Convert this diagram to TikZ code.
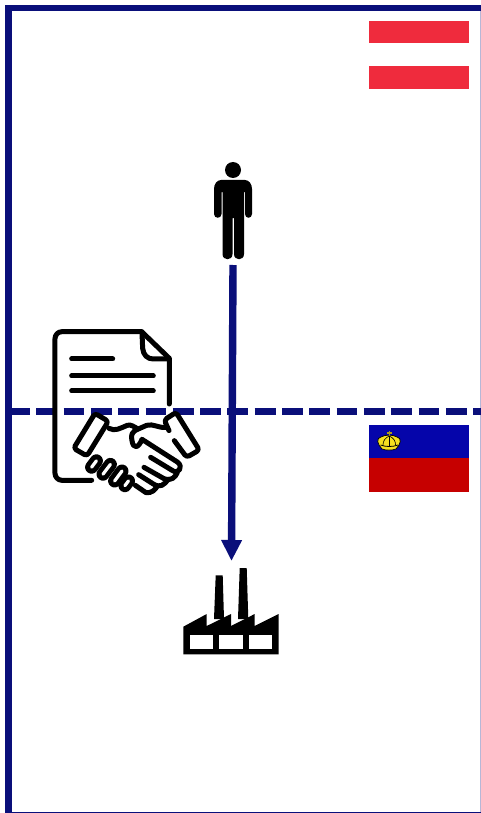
\documentclass[tikz,border=0pt]{standalone}
\usetikzlibrary{arrows.meta}
\definecolor{frame}{HTML}{0A0F7A}
\definecolor{atred}{HTML}{EF2B3D}
\definecolor{liblue}{HTML}{0505AA}
\definecolor{lired}{HTML}{C60000}
\definecolor{crown}{HTML}{F5E020}
\tikzset{
  border/.style={frame,line width=7.4pt,line cap=butt},
  icon/.style={black,line width=5pt,line cap=round,line join=round},
  finger/.style={black,line width=5pt,line cap=round,line join=round},
}
\begin{document}
\begin{tikzpicture}[x=1pt,y=-1pt,line join=round]
  \useasboundingbox (0,0) rectangle (481,813);
  \fill[white] (0,0) rectangle (481,813);

  % Outer frame: heavy left and top, hairline right and bottom.
  \draw[frame!30,line width=1pt] (480.5,8)--(480.5,812);
  \draw[frame,line width=1.2pt] (8,812.4)--(481,812.4);
  \fill[frame] (5,5) rectangle (481,11.5);
  \fill[frame] (5,5) rectangle (12,813);

  % Border line between the two countries.
  \draw[border,dash pattern=on 20.8pt off 6.5pt] (9,411.5)--(481,411.5);

  % Austrian flag.
  \fill[atred] (369,21) rectangle (469,43.5);
  \fill[atred] (369,66) rectangle (469,89);

  % Liechtenstein flag with crown.
  \fill[liblue] (369,425) rectangle (469,458);
  \fill[lired] (369,458) rectangle (469,492);
  \draw[black,line width=0.7pt,fill=crown]
    (382,449) .. controls (377,444) and (376,438) .. (381,437)
    .. controls (385,434.5) and (393,434.5) .. (397,437)
    .. controls (402,438) and (401,444) .. (396,449)
    .. controls (392,450.5) and (386,450.5) .. (382,449) -- cycle;
  \draw[crown!70!black,line width=1.6pt] (389.3,431)--(389.3,436);
  \draw[crown!70!black,line width=1.2pt] (387,433)--(391.6,433);
  \draw[black,line width=0.6pt] (389.3,436) .. controls (385,438) and (383,441) .. (383,445);
  \draw[black,line width=0.6pt] (389.3,436) .. controls (393.6,438) and (395.6,441) .. (395.6,445);
  \draw[black,line width=0.6pt] (389.3,436)--(389.3,445.5);
  \draw[black,line width=0.8pt] (380.5,445) .. controls (386,447) and (392.6,447) .. (398,445);

  % Person standing in Austria.
  \coordinate (person) at (233,265);
  \fill[black] (233,170) circle (8pt);
  \fill[black] (221,180) -- (245,180)
    .. controls (249,180) and (252,184) .. (252,189)
    -- (252,214) .. controls (252,219) and (245,219) .. (245,214)
    -- (245,192) -- (244,192) -- (244,254)
    .. controls (244,261) and (234,261) .. (234,254) -- (234,218) -- (232.5,218) -- (232.5,254)
    .. controls (232.5,261) and (222.5,261) .. (222.5,254) -- (222.5,192) -- (221.5,192) -- (221.5,214)
    .. controls (221.5,219) and (214,219) .. (214,214) -- (214,189)
    .. controls (214,184) and (217,180) .. (221,180) -- cycle;

  % Contract: sheet with folded corner and three text lines.
  \begin{scope}[shift={(40,320)},x=0.3333pt,y=-0.3333pt]
    \draw[icon,rounded corners=7pt] (155,481) -- (45,481) -- (45,35) -- (305,35);
    \draw[icon] (305,35) -- (388,115) -- (388,252);
    \draw[icon] (306,38) -- (308,85) .. controls (310,105) and (322,117) .. (340,117) -- (388,117);
    \draw[icon] (95,117)--(218,117);
    \draw[icon] (95,168)--(340,168);
    \draw[icon] (95,213)--(340,213);
  \end{scope}

  % Handshake in front of the contract.
  \begin{scope}[shift={(40,320)},x=0.3333pt,y=-0.3333pt]
    \draw[finger,fill=white,rounded corners=3pt] (165,280) -- (205,304) -- (141,408) -- (101,385) -- cycle;
    \draw[finger,rounded corners=3pt] (387,332) -- (373,300) -- (408,277) -- (478,390) -- (440,412) -- (403,362);
    % Top contour and thumb.
    \draw[finger] (207,325) .. controls (225,335) and (240,325) .. (262,316) .. controls (272,312) and (285,322) .. (292,326);
    \draw[finger] (378,322) .. controls (355,325) and (340,310) .. (320,316) -- (295,327)
      .. controls (275,335) and (272,345) .. (276,362) .. controls (280,388) and (295,385) .. (306,358)
      -- (412,426) .. controls (432,440) and (415,464) .. (398,452) -- (332,412);
    % Fingers of the right hand.
    \draw[finger] (412,458) .. controls (405,472) and (395,484) .. (372,476) -- (312,442);
    \draw[finger] (385,478) .. controls (372,495) and (360,505) .. (340,492) -- (296,464);
    \draw[finger] (352,498) .. controls (345,510) and (335,520) .. (318,518) -- (286,496);
  \end{scope}
  % Knuckles of the left hand.
  \foreach \a/\b/\c/\d in {91.6/467.2/96.4/460.8,103/474.2/110.4/464.4,114.6/481/122/471,124.9/485.7/128.5/480.9}{
    \draw[black,line width=13pt,line cap=round] (\a,\b)--(\c,\d);
    \draw[white,line width=3.2pt,line cap=round] (\a,\b)--(\c,\d);
  }

  % Factory standing in Liechtenstein.
  \coordinate (factory) at (231.5,561);
  \fill[black] (214,619) -- (215.7,575.3) -- (222.7,575.3) -- (224,619) -- cycle;
  \fill[black] (238,619) -- (239.7,568) -- (246.7,568) -- (248.3,619) -- cycle;
  \fill[black] (183.3,654.3) -- (183.3,626.7) -- (206.7,614) -- (206.7,626) -- (231,614) -- (231,626)
    -- (254.7,614) -- (254.7,626) -- (278.7,614) -- (278.7,654.3) -- cycle;
  \foreach \x/\w in {190/213.3,219.3/242.7,248.7/272}{
    \fill[white] (\x,635.3) rectangle (\w,649);
  }

  % Delivery from person to factory.
  \draw[frame,line width=7.4pt,-{Triangle[length=21pt,width=19.5pt]}] (person) -- (factory);
\end{tikzpicture}
\end{document}
